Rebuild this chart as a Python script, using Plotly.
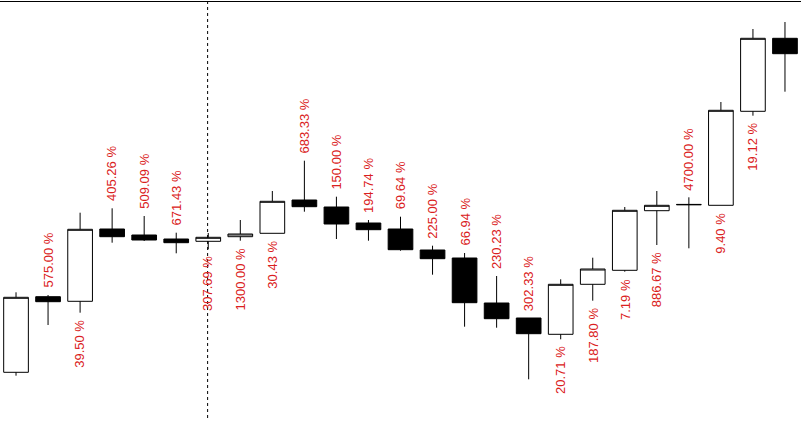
import plotly.graph_objects as go

idx = list(range(25))
opens  = [54.7, 130.3, 125.7, 198.0, 192.0, 188.0, 185.7, 190.3, 193.7, 227.0, 220.0, 204.0, 198.0,
          177.0, 169.0, 124.0, 109.0, 92.7, 142.7, 156.7, 216.3, 222.6, 221.7, 315.7, 388.7]
highs  = [134.7, 132.0, 214.3, 218.7, 211.0, 194.3, 194.0, 207.0, 236.0, 266.3, 230.3, 207.0, 210.3,
          181.3, 174.0, 151.0, 109.0, 147.7, 169.3, 220.0, 236.0, 229.7, 325.0, 398.0, 405.0]
lows   = [51.3, 102.0, 114.3, 184.3, 186.0, 173.7, 177.7, 186.3, 193.7, 215.3, 188.0, 186.3, 176.3,
          152.3, 100.3, 99.3, 47.7, 87.7, 126.3, 155.3, 182.0, 178.7, 221.7, 311.3, 335.3]
closes = [129.7, 125.3, 197.7, 190.3, 187.0, 184.3, 189.7, 193.0, 225.7, 220.3, 203.0, 197.3, 177.3,
          168.3, 124.3, 108.3, 93.3, 142.7, 158.0, 216.7, 221.7, 222.3, 316.7, 388.7, 373.3]
labels = [None, "575.00 %", "39.50 %", "405.26 %", "509.09 %", "671.43 %", "307.69 %", "1300.00 %",
          "30.43 %", "683.33 %", "150.00 %", "194.74 %", "69.64 %", "225.00 %", "66.94 %", "230.23 %",
          "302.33 %", "20.71 %", "187.80 %", "7.19 %", "886.67 %", "4700.00 %", "9.40 %", "19.12 %", None]

fig = go.Figure()
fig.add_trace(go.Candlestick(
    x=idx, open=opens, high=highs, low=lows, close=closes,
    increasing=dict(line=dict(color="black", width=1), fillcolor="white"),
    decreasing=dict(line=dict(color="black", width=1), fillcolor="black"),
    whiskerwidth=0, showlegend=False, hoverinfo="skip",
))

for i, lab in enumerate(labels):
    if lab is None:
        continue
    up = closes[i] < opens[i]
    fig.add_annotation(
        x=idx[i], y=highs[i] if up else lows[i], text=lab, showarrow=False,
        textangle=-90, yanchor="bottom" if up else "top", xanchor="center",
        yshift=5 if up else -5,
        font=dict(family="Liberation Sans, Arial, sans-serif", size=13, color="#da2020"),
    )

# vertical dashed marker line and top border line
fig.add_shape(type="line", x0=5.98, x1=5.98, y0=9, y1=427, xref="x", yref="y",
              line=dict(color="black", width=1, dash="3px,3px"))
fig.add_shape(type="line", x0=0, x1=1, y0=425.5, y1=425.5, xref="paper", yref="y",
              line=dict(color="black", width=1))

fig.update_layout(
    width=801, height=427, margin=dict(l=0, r=0, t=0, b=0),
    paper_bgcolor="white", plot_bgcolor="white", boxgap=0.23, boxgroupgap=0,
    hovermode=False,
    xaxis=dict(range=[-0.5, 24.5], visible=False, rangeslider=dict(visible=False), fixedrange=True),
    yaxis=dict(range=[0, 427], visible=False, fixedrange=True),
)
fig.write_html("out.html", config={"displayModeBar": False},
               post_script="document.body.style.margin='0';document.body.style.overflow='hidden';")
